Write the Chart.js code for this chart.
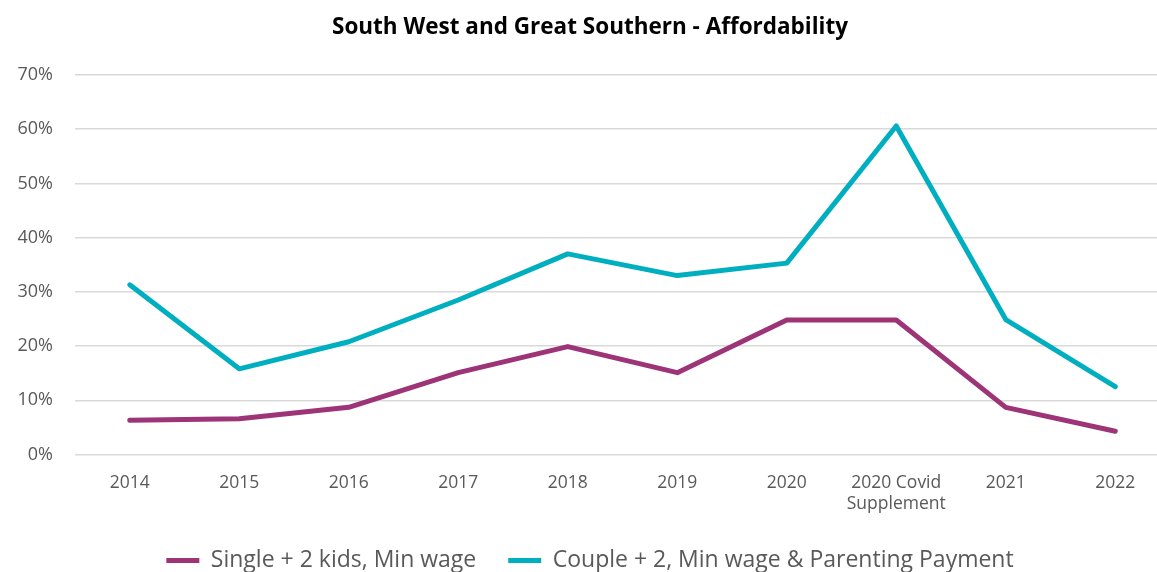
<!DOCTYPE html>
<html>
<head>
<meta charset="utf-8">
<script src="https://cdn.jsdelivr.net/npm/chart.js@4/dist/chart.umd.min.js"></script>
<style>
  html, body { margin: 0; padding: 0; background: #fff; overflow: hidden; }
  #wrap { position: relative; width: 1210px; height: 582px; }
</style>
</head>
<body>
<div id="wrap"><canvas id="afford-canvas"></canvas></div>
<script>
// categories + series
const categories = ['2014', '2015', '2016', '2017', '2018', '2019', '2020', ['2020 Covid', 'Supplement'], '2021', '2022'];
const singleMinWage = [6.3, 6.6, 8.7, 15.1, 19.9, 15.1, 24.8, 24.8, 8.7, 4.3];
const coupleParenting = [31.3, 15.8, 20.8, 28.5, 37.0, 33.0, 35.3, 60.6, 24.9, 12.5];
const yTicks = [0, 10, 20, 30, 40, 50, 60, 70];

const FONT = '"Open Sans", Lato, sans-serif';
const TEXT = '#595959';

const ctx = document.getElementById('afford-canvas').getContext('2d');

new Chart(ctx, {
  type: 'line',
  data: {
    labels: categories,
    datasets: [
      {
        label: 'Single + 2 kids, Min wage',
        data: singleMinWage,
        borderColor: '#9E3478',
        backgroundColor: '#9E3478',
        borderWidth: 5,
        borderCapStyle: 'round',
        borderJoinStyle: 'round',
        pointRadius: 0,
        pointStyle: 'line',
        tension: 0,
        fill: false
      },
      {
        label: 'Couple + 2, Min wage & Parenting Payment',
        data: coupleParenting,
        borderColor: '#00AFBF',
        backgroundColor: '#00AFBF',
        borderWidth: 5,
        borderCapStyle: 'round',
        borderJoinStyle: 'round',
        pointRadius: 0,
        pointStyle: 'line',
        tension: 0,
        fill: false
      }
    ]
  },
  options: {
    responsive: true,
    maintainAspectRatio: false,
    animation: false,
    layout: { padding: { left: 10, right: 40, top: 0, bottom: 0 } },
    plugins: {
      title: {
        display: true,
        text: 'South West and Great Southern - Affordability',
        color: '#000',
        font: { family: FONT, size: 22.5, weight: 'bold' },
        padding: { top: 14, bottom: 34 }
      },
      legend: {
        position: 'bottom',
        labels: {
          usePointStyle: true,
          pointStyleWidth: 33,
          boxHeight: 23,
          color: TEXT,
          padding: 32,
          font: { family: FONT, size: 23 }
        }
      },
      tooltip: { enabled: false }
    },
    scales: {
      x: {
        offset: true,
        grid: { display: false },
        border: { display: false },
        ticks: {
          color: TEXT,
          font: { family: FONT, size: 17.5 },
          maxRotation: 0,
          autoSkip: false,
          padding: 10
        },
        afterFit: axis => { axis.height = 62.5; }
      },
      y: {
        min: 0,
        max: 70,
        afterBuildTicks: axis => { axis.ticks = yTicks.map(v => ({ value: v })); },
        grid: { color: '#D9D9D9', lineWidth: 1.5, drawTicks: false },
        border: { display: false },
        ticks: {
          color: TEXT,
          font: { family: FONT, size: 18 },
          padding: 22,
          callback: v => v + '%'
        },
        afterFit: axis => { axis.width = 65; }
      }
    }
  }
});
</script>
</body>
</html>
